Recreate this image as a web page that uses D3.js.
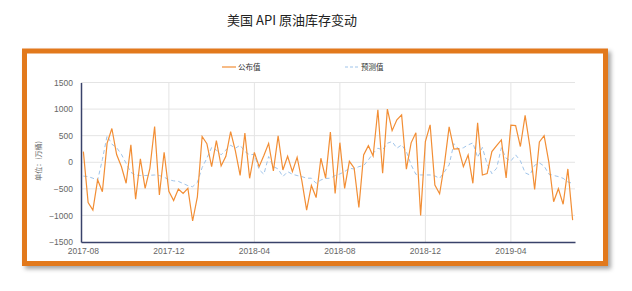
<!DOCTYPE html>
<html>
<head>
<meta charset="utf-8">
<script src="https://cdn.jsdelivr.net/npm/d3@7"></script>
<style>
  body { margin: 0; background: #fff; }
  svg { display: block; }
</style>
</head>
<body>
<svg width="632" height="291"></svg>
<script>
// weekly report dates
const dates = [
  "2017-08-01","2017-08-08","2017-08-15","2017-08-22","2017-08-29",
  "2017-09-05","2017-09-12","2017-09-19","2017-09-26",
  "2017-10-03","2017-10-10","2017-10-17","2017-10-24","2017-10-31",
  "2017-11-07","2017-11-14","2017-11-21","2017-11-28",
  "2017-12-05","2017-12-12","2017-12-19","2017-12-26",
  "2018-01-02","2018-01-09","2018-01-16","2018-01-23","2018-01-30",
  "2018-02-06","2018-02-13","2018-02-20","2018-02-27",
  "2018-03-06","2018-03-13","2018-03-20","2018-03-27",
  "2018-04-03","2018-04-10","2018-04-17","2018-04-24",
  "2018-05-01","2018-05-08","2018-05-15","2018-05-22","2018-05-29",
  "2018-06-05","2018-06-12","2018-06-19","2018-06-26",
  "2018-07-03","2018-07-10","2018-07-17","2018-07-24","2018-07-31",
  "2018-08-07","2018-08-14","2018-08-21","2018-08-28",
  "2018-09-04","2018-09-11","2018-09-18","2018-09-25",
  "2018-10-02","2018-10-09","2018-10-16","2018-10-23","2018-10-30",
  "2018-11-06","2018-11-13","2018-11-20","2018-11-27",
  "2018-12-04","2018-12-11","2018-12-18","2018-12-25",
  "2019-01-01","2019-01-08","2019-01-15","2019-01-22","2019-01-29",
  "2019-02-05","2019-02-12","2019-02-19","2019-02-26",
  "2019-03-05","2019-03-12","2019-03-19","2019-03-26",
  "2019-04-02","2019-04-09","2019-04-16","2019-04-23","2019-04-30",
  "2019-05-07","2019-05-14","2019-05-21","2019-05-28",
  "2019-06-04","2019-06-11","2019-06-18","2019-06-25",
  "2019-07-02","2019-07-09","2019-07-16","2019-07-23"
];

// 公布值 (万桶)
const actual = [
  200, -760, -900, -330, -555, 360, 635, 145, -80, -395,
  326, -695, 65, -490, -115, 672, -616, 188, -545, -720,
  -503, -585, -491, -1105, -650, 484, 350, -82, 405, -70,
  113, 578, 215, -248, 547, -302, 185, -82, 128, 355,
  -164, 497, -145, 113, -176, 94, -350, -900, -437, -664,
  75, -298, 566, -585, 368, -491, 18, -108, -849, 138,
  311, 116, 987, -208, 1000, 594, 798, 892, -130, 365,
  553, -1000, 390, 704, -428, -592, -40, 666, 248, 255,
  -82, 138, -396, 742, -239, -214, 200, 311, 421, -296,
  698, 688, 296, 880, 295, -513, 383, 500, -3, -742,
  -497, -790, -126, -1088
];

// 预测值 (万桶)
const forecast = [
  -260, -270, -300, -340, 50, 500, 340, 275, 150, -20,
  -190, -240, -250, -250, -245, -240, -250, -280, -330, -350,
  -360, -400, -440, -460, -380, -100, 75, 277, 230, 140,
  230, 320, 264, 320, 200, 140, 150, -140, -226, 107,
  -82, -126, -270, -176, -226, -250, -270, -300, -300, -396,
  -333, -305, -300, -250, -220, -176, -113, -126, -82, -63,
  44, 170, 264, 233, 358, 390, 264, 327, 201, -50,
  -226, -239, -239, -239, -258, -302, -180, -50, 350, 248,
  273, 326, 364, 90, 280, -35, -214, -113, 273, 75,
  22, 138, 28, -199, -239, -57, -13, -72, -223, -248,
  -270, -302, -371, -396
];

const tickDates = ["2017-08-01", "2017-12-05", "2018-04-10", "2018-08-14", "2018-12-18", "2019-04-23"];
const yTicks = [-1500, -1000, -500, 0, 500, 1000, 1500];
const seriesNames = ["公布值", "预测值"];

const svg = d3.select("svg");
const font = "'Liberation Sans', Arial, 'Noto Sans CJK SC', sans-serif";
const cjk = "'Noto Sans CJK SC', sans-serif";

const margin = { top: 82.5, right: 57, bottom: 49, left: 81 };
const width = 632, height = 291;

// title
svg.append("text")
  .attr("x", 292)
  .attr("y", 25)
  .attr("text-anchor", "middle")
  .attr("font-family", cjk)
  .attr("font-size", 13)
  .attr("fill", "#222")
  .text("美国 API 原油库存变动");

// frame with shadow
const defs = svg.append("defs");
const f = defs.append("filter").attr("id", "shadow")
  .attr("x", "-5%").attr("y", "-5%").attr("width", "115%").attr("height", "115%");
f.append("feDropShadow")
  .attr("dx", 3).attr("dy", 3).attr("stdDeviation", 2)
  .attr("flood-color", "#000").attr("flood-opacity", 0.35);

svg.append("rect")
  .attr("x", 24.5).attr("y", 51)
  .attr("width", 581).attr("height", 212.5)
  .attr("fill", "#fff")
  .attr("stroke", "#e2791f")
  .attr("stroke-width", 5)
  .attr("filter", "url(#shadow)");

// scales
const x = d3.scaleBand()
  .domain(dates)
  .range([margin.left, width - margin.right]);
const cx = d => x(d) + x.bandwidth() / 2;

const y = d3.scaleLinear()
  .domain([-1500, 1500])
  .range([height - margin.bottom, margin.top]);

// grid
svg.append("g")
  .selectAll("line")
  .data(yTicks.slice(1))
  .join("line")
  .attr("x1", margin.left).attr("x2", width - margin.right)
  .attr("y1", d => y(d)).attr("y2", d => y(d))
  .attr("stroke", "#e4e4e4");

svg.append("g")
  .selectAll("line")
  .data(tickDates.slice(1))
  .join("line")
  .attr("x1", cx).attr("x2", cx)
  .attr("y1", margin.top).attr("y2", y(-1500))
  .attr("stroke", "#e4e4e4");

// axes
const yAxis = svg.append("g")
  .attr("transform", `translate(${margin.left},0)`)
  .call(d3.axisLeft(y).tickValues(yTicks).tickSize(0).tickPadding(8)
    .tickFormat(d3.format("d")));
yAxis.select(".domain").attr("stroke", "#39426a").attr("stroke-width", 1.5);
yAxis.selectAll("text").attr("font-family", font).attr("font-size", 8.5).attr("fill", "#666");

const xAxis = svg.append("g")
  .attr("transform", `translate(0,${y(-1500)})`)
  .call(d3.axisBottom(x).tickValues(tickDates).tickSize(0).tickPadding(6)
    .tickFormat(d => d.slice(0, 7)));
xAxis.select(".domain").attr("stroke", "#39426a").attr("stroke-width", 1.5);
xAxis.selectAll("text").attr("font-family", font).attr("font-size", 8.5).attr("fill", "#666");

svg.append("text")
  .attr("transform", `translate(41,161) rotate(-90)`)
  .attr("text-anchor", "middle")
  .attr("font-family", cjk)
  .attr("font-size", 7)
  .attr("fill", "#666")
  .text("单位：(万桶)");

// lines
const line = d3.line()
  .x((d, i) => cx(dates[i]))
  .y(d => y(d));

svg.append("path")
  .datum(forecast)
  .attr("fill", "none")
  .attr("stroke", "#9fc4ea")
  .attr("stroke-width", 1)
  .attr("stroke-dasharray", "4,3")
  .attr("d", line);

svg.append("path")
  .datum(actual)
  .attr("fill", "none")
  .attr("stroke", "#f28e35")
  .attr("stroke-width", 1.2)
  .attr("d", line);

// legend
const legend = svg.append("g")
  .selectAll("g")
  .data(seriesNames)
  .join("g")
  .attr("transform", (d, i) => `translate(${222 + i * 123},67)`);

legend.append("line")
  .attr("x1", 0).attr("x2", 14)
  .attr("stroke", (d, i) => i ? "#9fc4ea" : "#f28e35")
  .attr("stroke-width", (d, i) => i ? 1 : 1.2)
  .attr("stroke-dasharray", (d, i) => i ? "3,2" : null);

legend.append("text")
  .attr("x", 16)
  .attr("dy", "0.35em")
  .attr("font-family", cjk)
  .attr("font-size", 7.5)
  .attr("fill", "#333")
  .text(d => d);
</script>
</body>
</html>
